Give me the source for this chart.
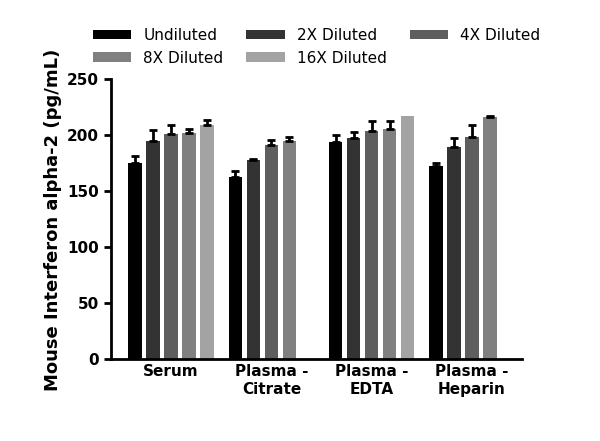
import numpy as np, pandas as pd, seaborn as sns, matplotlib
matplotlib.use("Agg")
import matplotlib.pyplot as plt

groups = ["Serum", "Plasma -\nCitrate", "Plasma -\nEDTA", "Plasma -\nHeparin"]
dilutions = ["Undiluted", "2X Diluted", "4X Diluted", "8X Diluted", "16X Diluted"]
means = {
    "Undiluted": [175, 163, 194, 173],
    "2X Diluted": [195, 178, 198, 190],
    "4X Diluted": [201, 191, 204, 199],
    "8X Diluted": [202, 195, 206, 216],
    "16X Diluted": [209, np.nan, 217, np.nan],
}
errs = {
    "Undiluted": [7, 5, 6, 2],
    "2X Diluted": [10, 1, 5, 8],
    "4X Diluted": [8, 5, 9, 10],
    "8X Diluted": [4, 4, 7, 1],
    "16X Diluted": [5, np.nan, 10, np.nan],
}
colors = ["#000000", "#333333", "#5e5e5e", "#808080", "#a3a3a3"]

rows = []
for d in dilutions:
    for g, m, e in zip(groups, means[d], errs[d]):
        rows.append(dict(group=g, dil=d, val=m, err=e))
df = pd.DataFrame(rows)

fig, ax = plt.subplots(figsize=(6, 4.41), dpi=100)
fig.subplots_adjust(left=0.185, right=0.87, top=0.82, bottom=0.185)
sns.barplot(data=df, x="group", y="val", hue="dil", hue_order=dilutions,
            palette=colors, ax=ax, width=0.9, gap=0.25, errorbar=None, legend=True,
            linewidth=0)

for i, d in enumerate(dilutions):
    cont = ax.containers[i]
    for bar, m, e in zip(cont, means[d], errs[d]):
        if np.isnan(m):
            continue
        x = bar.get_x() + bar.get_width() / 2
        ax.errorbar(x, m, yerr=[[0], [e]], fmt="none", ecolor="black",
                    elinewidth=2, capsize=3, capthick=2, zorder=5)

ax.set_ylim(0, 250)
ax.set_yticks(range(0, 251, 50))
ax.set_xlim(-0.6, 3.5)
ax.set_xlabel("")
ax.set_ylabel("Mouse Interferon alpha-2 (pg/mL)", fontsize=13, fontweight="bold")
ax.tick_params(axis="both", labelsize=11, width=2, length=5)
for lbl in ax.get_xticklabels() + ax.get_yticklabels():
    lbl.set_fontweight("bold")
ax.tick_params(axis="x", length=0)
sns.despine(ax=ax)
for s in ["left", "bottom"]:
    ax.spines[s].set_linewidth(2)

h, l = ax.get_legend_handles_labels()
order = [0, 3, 1, 4, 2]
ax.legend([h[i] for i in order], [l[i] for i in order], loc="lower center",
          bbox_to_anchor=(0.5, 1.0), ncol=3, frameon=False,
          fontsize=11, handlelength=2.5, handleheight=0.6, columnspacing=1.5)
fig.savefig("out.png", dpi=100)
